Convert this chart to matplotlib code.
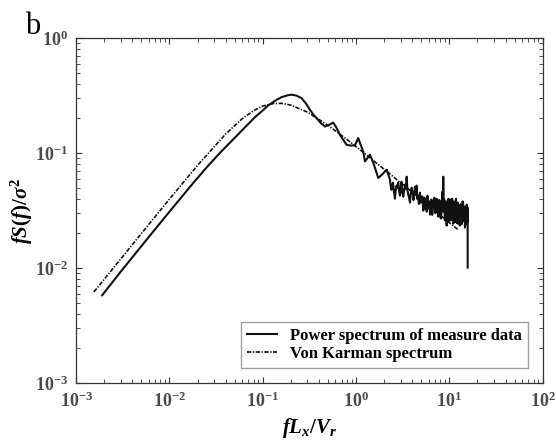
import numpy as np
import matplotlib
matplotlib.use("Agg")
import matplotlib.pyplot as plt

plt.rcParams['font.family'] = ['Liberation Serif', 'DejaVu Serif']
plt.rcParams['mathtext.fontset'] = 'custom'
plt.rcParams['mathtext.it'] = 'Liberation Serif:italic:bold'
plt.rcParams['mathtext.rm'] = 'Liberation Serif:bold'
plt.rcParams['mathtext.bf'] = 'Liberation Serif:bold'

meas_x = [0.0019, 0.003, 0.005, 0.008, 0.012, 0.018, 0.025, 0.035, 0.048, 0.065,
          0.0824, 0.1, 0.1146, 0.14, 0.16, 0.185, 0.204, 0.23, 0.261, 0.29,
          0.321, 0.35, 0.378, 0.42, 0.465, 0.52, 0.57, 0.62, 0.671, 0.73,
          0.792, 0.88, 0.973, 1.056, 1.12, 1.194, 1.245, 1.32, 1.41, 1.53,
          1.73, 1.9, 2.13,
          2.308, 2.35, 2.395, 2.44, 2.486, 2.55, 2.612, 2.66, 2.710, 2.77,
          2.833, 2.89, 2.955, 3.01, 3.066, 3.13, 3.206, 3.27, 3.343, 3.41,
          3.486, 3.55, 3.627, 3.70, 3.782, 3.86, 3.944, 4.01, 4.073, 4.12,
          4.174, 4.23, 4.278, 4.37, 4.461, 4.53, 4.607, 4.72, 4.84, 4.93,
          5.023, 5.13, 5.251, 5.33, 5.408, 5.51, 5.612, 5.72, 5.824, 5.93,
          6.044, 6.12, 6.196, 6.31, 6.429, 6.55, 6.671, 6.80, 6.922, 7.05,
          7.184, 7.32, 7.455, 7.60, 7.735, 7.83, 7.930, 8.08, 8.227, 8.33,
          8.433, 8.52, 8.602, 8.71, 8.816, 8.95, 9.082, 9.22, 9.356, 9.51,
          9.661, 9.78, 9.901, 10.03, 10.15, 10.30, 10.45, 10.58, 10.72, 10.86,
          11.01, 11.17, 11.34, 11.48, 11.63, 11.77, 11.91, 12.03, 12.15, 12.33,
          12.52, 12.75, 12.99, 13.15, 13.31, 13.48, 13.65, 13.87, 14.09, 14.25,
          14.40, 14.55, 14.69, 14.88, 15.06, 15.2, 15.32, 15.5, 15.71, 15.72]
meas_y = [0.0058, 0.0093, 0.0155, 0.0248, 0.037, 0.055, 0.075, 0.101, 0.131, 0.168,
          0.205, 0.235, 0.26, 0.29, 0.307, 0.318, 0.322, 0.316, 0.300, 0.27,
          0.2375, 0.215, 0.201, 0.182, 0.170, 0.177, 0.184, 0.165, 0.144, 0.130,
          0.118, 0.116, 0.117, 0.135, 0.118, 0.103, 0.0846, 0.09, 0.0967, 0.0824,
          0.0607, 0.065, 0.0717,
          0.0587, 0.052, 0.0480, 0.051, 0.0553, 0.046, 0.0401, 0.047, 0.0521, 0.050,
          0.0553, 0.047, 0.0426, 0.050, 0.0564, 0.046, 0.0418, 0.047, 0.0531, 0.049,
          0.0623, 0.048, 0.0435, 0.041, 0.0371, 0.045, 0.0500, 0.044, 0.0462, 0.039,
          0.0418, 0.047, 0.0510, 0.044, 0.0521, 0.040, 0.0426, 0.036, 0.0453, 0.037,
          0.0394, 0.042, 0.0316, 0.036, 0.0409, 0.033, 0.0371, 0.031, 0.0426, 0.033,
          0.0349, 0.038, 0.0292, 0.035, 0.0394, 0.029, 0.0342, 0.038, 0.0409, 0.030,
          0.0310, 0.040, 0.0394, 0.028, 0.0304, 0.039, 0.0356, 0.027, 0.0298, 0.036,
          0.0462, 0.035, 0.0623, 0.031, 0.0394, 0.026, 0.0286, 0.038, 0.0234, 0.036,
          0.0322, 0.040, 0.0254, 0.030, 0.0394, 0.026, 0.0298, 0.037, 0.0401, 0.027,
          0.0244, 0.038, 0.0349, 0.025, 0.0275, 0.040, 0.0363, 0.026, 0.0244, 0.037,
          0.0322, 0.024, 0.0234, 0.036, 0.0349, 0.024, 0.0275, 0.038, 0.0356, 0.026,
          0.0254, 0.034, 0.0225, 0.030, 0.0322, 0.024, 0.0356, 0.025, 0.0335, 0.0101]

# Von Karman spectrum
vk_x = [0.00155, 0.003, 0.006, 0.01, 0.02, 0.04, 0.06, 0.08, 0.1, 0.13,
        0.16, 0.2, 0.3, 0.5, 0.8, 1.2, 2.0, 3.5, 6.0, 10.0, 12.5]
vk_y = [0.0062, 0.01199, 0.02395, 0.0398, 0.0782, 0.1463, 0.1987, 0.2344, 0.2561, 0.270,
        0.2705, 0.2613, 0.2273, 0.1744, 0.1311, 0.1011, 0.0723, 0.0499, 0.0349, 0.0248, 0.0215]

fig = plt.figure(figsize=(5.56, 4.48), dpi=100)
ax = fig.add_axes([0.137, 0.145, 0.839, 0.77])

ax.loglog(meas_x, meas_y, '-', color='#111111', lw=1.5,
          label='Power spectrum of measure data')
ax.loglog(vk_x, vk_y, color='#111111', lw=1.2, linestyle=(0, (2.6, 0.9, 0.8, 0.9)),
          label='Von Karman spectrum')

ax.set_xlim(1e-3, 1e2)
ax.set_ylim(1e-3, 1e0)

for s in ax.spines.values():
    s.set_color('#333333')
    s.set_linewidth(0.9)
ax.tick_params(which='both', direction='in', top=True, right=True, colors='#333333')
ax.tick_params(which='major', length=4.5, width=0.8, labelsize=13, pad=6)
ax.tick_params(which='minor', length=3, width=0.6)
for lab in ax.get_xticklabels() + ax.get_yticklabels():
    lab.set_fontweight('bold')
    lab.set_color('#4a4a4a')

ax.set_xlabel(r'$fL_x/V_r$', fontsize=15, labelpad=4)
ax.set_ylabel(r'$fS(f)/\sigma^2$', fontsize=15, labelpad=0)

leg = ax.legend(loc='lower right', prop={'weight': 'bold', 'size': 12},
                frameon=True, fancybox=False, edgecolor='#888888',
                handlelength=1.8, borderaxespad=0.9, labelspacing=0.15,
                borderpad=0.35)
leg.get_frame().set_linewidth(1.0)

fig.text(0.045, 0.925, 'b', fontsize=22)

fig.savefig('out.png', dpi=100)
